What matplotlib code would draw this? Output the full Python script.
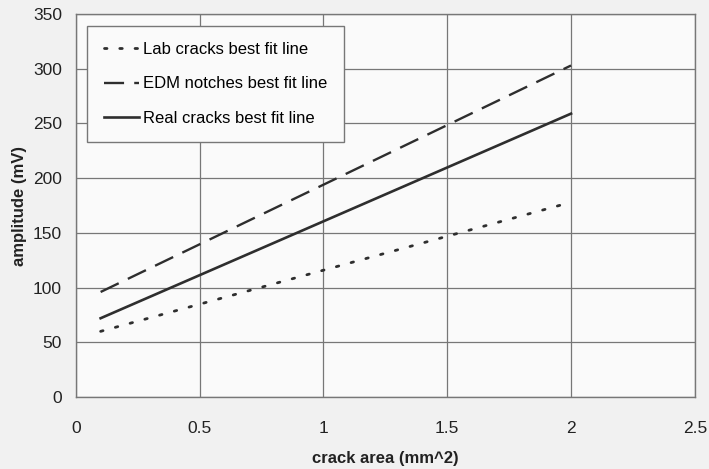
import matplotlib.pyplot as plt
import numpy as np

plt.rcParams["font.family"] = ["Liberation Sans", "DejaVu Sans"]

crack_area = [0.1, 2.0]
lab_cracks = [60, 178]
edm_notches = [96, 303]
real_cracks = [72, 259]

xticks = [0, 0.5, 1, 1.5, 2, 2.5]
yticks = [0, 50, 100, 150, 200, 250, 300, 350]

fig = plt.figure(figsize=(7.09, 4.69), dpi=100, facecolor="#f1f1f1")
ax = fig.add_axes([0.107, 0.1535, 0.873, 0.8165])
ax.set_facecolor("#fafafa")

ink = "#2e2e2e"
ax.plot(crack_area, lab_cracks, color=ink, lw=2.0, ls=(0, (0.9, 4.6)),
        dash_capstyle="round", label="Lab cracks best fit line")
ax.plot(crack_area, edm_notches, color=ink, lw=1.7, ls=(0, (8.5, 4.3)),
        label="EDM notches best fit line")
ax.plot(crack_area, real_cracks, color=ink, lw=1.9, ls="-",
        label="Real cracks best fit line")

ax.set_xlim(0, 2.5)
ax.set_ylim(0, 350)
ax.set_xticks(xticks)
ax.set_yticks(yticks)
ax.set_xticklabels([f"{t:g}" for t in xticks])
ax.grid(True, color="#777777", lw=0.9)
ax.set_axisbelow(True)
for s in ax.spines.values():
    s.set_color("#777777")
    s.set_linewidth(1.0)
ax.tick_params(length=0, labelsize=12.5, colors="#222222")
ax.tick_params(axis="x", pad=17)
ax.tick_params(axis="y", pad=10)

ax.set_xlabel("crack area (mm^2)", fontsize=12, fontweight="bold", labelpad=11,
              color="#222222")
ax.set_ylabel("amplitude (mV)", fontsize=12, fontweight="bold", labelpad=4,
              color="#222222")

leg = ax.legend(loc="upper left", bbox_to_anchor=(0.018, 0.97), fontsize=12,
                frameon=True, fancybox=False, framealpha=1, edgecolor="#777777",
                handlelength=2.1, handletextpad=0.25, labelspacing=1.15,
                borderpad=1.0, borderaxespad=0)
leg.get_frame().set_facecolor("#fafafa")
leg.get_frame().set_linewidth(1.0)

fig.savefig("out.png", dpi=100, facecolor=fig.get_facecolor())
